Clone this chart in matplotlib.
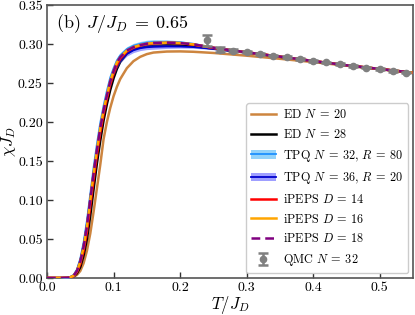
import matplotlib
matplotlib.use("Agg")
import matplotlib.pyplot as plt
from matplotlib.patches import Patch
from matplotlib.lines import Line2D
import numpy as np

plt.rcParams['font.family'] = 'serif'
plt.rcParams['font.serif'] = ['cmr10']
plt.rcParams['mathtext.fontset'] = 'cm'
plt.rcParams['axes.formatter.use_mathtext'] = True

T = [0.0, 0.02, 0.03, 0.035, 0.04, 0.045, 0.05, 0.055, 0.06, 0.065, 0.07, 0.075, 0.08,
     0.085, 0.09, 0.095, 0.10, 0.105, 0.11, 0.12, 0.13, 0.14, 0.15, 0.16, 0.18, 0.20,
     0.22, 0.25, 0.30, 0.35, 0.40, 0.45, 0.50, 0.55]

ed20 = [0, 0, 0.0001, 0.0004, 0.0015, 0.004, 0.009, 0.019, 0.035, 0.057, 0.085, 0.115, 0.145,
        0.178, 0.200, 0.218, 0.233, 0.245, 0.255, 0.269, 0.278, 0.2835, 0.2870, 0.2890, 0.2903, 0.2905,
        0.2900, 0.2885, 0.2850, 0.2810, 0.2768, 0.2722, 0.2677, 0.2630]

ed28 = [0, 0, 0.0001, 0.0005, 0.002, 0.006, 0.014, 0.029, 0.050, 0.080, 0.114, 0.147, 0.176,
        0.202, 0.223, 0.241, 0.256, 0.268, 0.277, 0.2875, 0.2930, 0.2960, 0.2975, 0.2983, 0.2988, 0.2985,
        0.2975, 0.2940, 0.2890, 0.2836, 0.2780, 0.2726, 0.2679, 0.2631]

tpq32 = [0, 0, 0.0005, 0.0015, 0.004, 0.011, 0.025, 0.046, 0.074, 0.108, 0.142, 0.172, 0.199,
         0.221, 0.240, 0.257, 0.269, 0.279, 0.2855, 0.2935, 0.2978, 0.3002, 0.3018, 0.3025, 0.3028, 0.3022,
         0.3003, 0.2955, 0.2895, 0.2839, 0.2783, 0.2728, 0.2681, 0.2633]
tpq32_err = [0, 0, 0.0005, 0.001, 0.002, 0.003, 0.003, 0.003, 0.003, 0.003, 0.003, 0.003, 0.003,
             0.003, 0.003, 0.003, 0.003, 0.003, 0.003, 0.003, 0.003, 0.003, 0.003, 0.003, 0.0025, 0.002,
             0.0015, 0.001, 0.0008, 0.0006, 0.0005, 0.0004, 0.0004, 0.0004]

tpq36 = [0, 0, 0.0004, 0.0013, 0.0035, 0.010, 0.023, 0.043, 0.070, 0.103, 0.136, 0.165, 0.191,
         0.213, 0.232, 0.248, 0.262, 0.272, 0.279, 0.2875, 0.2920, 0.2945, 0.2958, 0.2963, 0.2968, 0.2967,
         0.2960, 0.2937, 0.2890, 0.2837, 0.2781, 0.2727, 0.2680, 0.2632]
tpq36_err = [0, 0, 0.0005, 0.001, 0.002, 0.003, 0.003, 0.003, 0.003, 0.003, 0.003, 0.003, 0.003,
             0.003, 0.003, 0.003, 0.003, 0.003, 0.003, 0.003, 0.003, 0.003, 0.003, 0.003, 0.0025, 0.002,
             0.0015, 0.001, 0.0008, 0.0006, 0.0005, 0.0004, 0.0004, 0.0004]

peps14 = [0, 0, 0.0002, 0.0008, 0.0025, 0.0075, 0.018, 0.035, 0.059, 0.092, 0.126, 0.157, 0.186,
          0.210, 0.230, 0.248, 0.262, 0.273, 0.281, 0.2905, 0.2953, 0.2980, 0.2998, 0.3008, 0.3014, 0.3010,
          0.2992, 0.2950, 0.2893, 0.2838, 0.2782, 0.2727, 0.2680, 0.2632]

peps16 = [0, 0, 0.0003, 0.001, 0.003, 0.009, 0.021, 0.040, 0.066, 0.100, 0.134, 0.164, 0.192,
          0.215, 0.234, 0.252, 0.265, 0.276, 0.283, 0.2915, 0.2960, 0.2985, 0.3003, 0.3012, 0.3017, 0.3012,
          0.2994, 0.2952, 0.2894, 0.2838, 0.2782, 0.2727, 0.2680, 0.2632]

peps18 = [0, 0, 0.0003, 0.001, 0.003, 0.009, 0.021, 0.040, 0.066, 0.100, 0.134, 0.164, 0.192,
          0.215, 0.234, 0.252, 0.265, 0.276, 0.283, 0.2915, 0.2960, 0.2985, 0.3003, 0.3012, 0.3017, 0.3012,
          0.2995, 0.2952, 0.2893, 0.2838, 0.2782, 0.2727, 0.2680, 0.2632]

qmc_T = [0.24, 0.26, 0.28, 0.30, 0.32, 0.34, 0.36, 0.38, 0.40, 0.42, 0.44, 0.46, 0.48, 0.50, 0.52, 0.54]
qmc_chi = [0.305, 0.2925, 0.2915, 0.2895, 0.2875, 0.2852, 0.2830, 0.2808, 0.2785, 0.2763, 0.2742,
           0.2720, 0.2698, 0.2676, 0.2655, 0.2634]
qmc_err = [0.007, 0.003, 0.0015, 0.001, 0.001, 0.001, 0.001, 0.001, 0.001, 0.001, 0.001,
           0.001, 0.001, 0.001, 0.001, 0.001]

fig = plt.figure(figsize=(4.15, 3.15), dpi=100)
ax = fig.add_axes([0.1133, 0.1175, 0.8817, 0.8667])

c_ed20 = '#cd853f'
ax.plot(T, ed20, color=c_ed20, lw=1.8, zorder=2)
ax.plot(T, ed28, color='black', lw=1.8, zorder=2)
ax.fill_between(T, np.array(tpq32) - np.array(tpq32_err), np.array(tpq32) + np.array(tpq32_err),
                color='#87cefa', alpha=0.9, lw=0, zorder=3)
ax.plot(T, tpq32, color='#1e90ff', lw=1.3, zorder=3)
ax.fill_between(T, np.array(tpq36) - np.array(tpq36_err), np.array(tpq36) + np.array(tpq36_err),
                color='#4040ff', alpha=0.5, lw=0, zorder=4)
ax.plot(T, tpq36, color='#0000cd', lw=1.3, zorder=4)
ax.plot(T, peps14, color='red', lw=1.8, zorder=5)
ax.plot(T, peps16, color='orange', lw=1.8, zorder=6)
ax.plot(T, peps18, color='purple', lw=1.8, ls=(0, (3.5, 2)), zorder=7)
eb = ax.errorbar(qmc_T, qmc_chi, yerr=qmc_err, fmt='o', color='gray', ms=4.5,
                 capsize=3.5, elinewidth=1.8, capthick=1.8, zorder=8)

ax.set_xlim(0, 0.55)
ax.set_ylim(0, 0.35)
ax.set_xticks([0.0, 0.1, 0.2, 0.3, 0.4, 0.5])
ax.set_yticks([0.0, 0.05, 0.10, 0.15, 0.20, 0.25, 0.30, 0.35])
ax.set_xticklabels(['0.0', '0.1', '0.2', '0.3', '0.4', '0.5'])
ax.set_yticklabels(['0.00', '0.05', '0.10', '0.15', '0.20', '0.25', '0.30', '0.35'])
ax.tick_params(direction='in', labelsize=10, length=4, width=1, color='#333333', pad=3)
for s in ax.spines.values():
    s.set_color('#555555')
    s.set_linewidth(1.2)

ax.set_xlabel(r'$T/J_D$', fontsize=12, labelpad=0)
ax.set_ylabel(r'$\chi J_D$', fontsize=12, labelpad=0)
ax.text(0.025, 0.975, r'(b) $J/J_D\;=\;0.65$', transform=ax.transAxes, fontsize=13,
        va='top', ha='left')

handles = [
    Line2D([], [], color=c_ed20, lw=1.8),
    Line2D([], [], color='black', lw=1.8),
    (Patch(facecolor='#87cefa', alpha=0.9, lw=0), Line2D([], [], color='#1e90ff', lw=1.3)),
    (Patch(facecolor='#4040ff', alpha=0.5, lw=0), Line2D([], [], color='#0000cd', lw=1.3)),
    Line2D([], [], color='red', lw=1.8),
    Line2D([], [], color='orange', lw=1.8),
    Line2D([], [], color='purple', lw=1.8, ls=(0, (3.5, 2))),
    eb,
]
labels = [r'ED $N\:=\:20$', r'ED $N\:=\:28$', r'TPQ $N\:=\:32$, $R\:=\:80$', r'TPQ $N\:=\:36$, $R\:=\:20$',
          r'iPEPS $D\:=\:14$', r'iPEPS $D\:=\:16$', r'iPEPS $D\:=\:18$', r'QMC $N\:=\:32$']
ax.legend(handles, labels, loc='lower right', fontsize=8.8, frameon=True, fancybox=True,
          edgecolor='#cccccc', framealpha=1.0, borderaxespad=0.4, labelspacing=0.55,
          handletextpad=0.6)

fig.savefig('out.png', dpi=100)
